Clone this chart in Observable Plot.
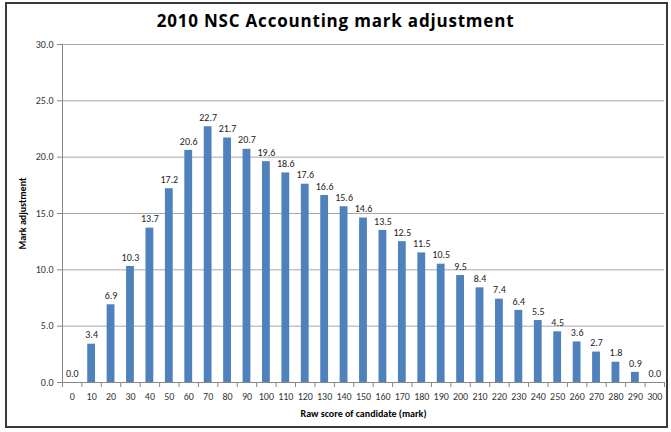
<!DOCTYPE html>
<html>
<head>
<meta charset="utf-8">
<script src="https://cdn.jsdelivr.net/npm/d3@7"></script>
<script src="https://cdn.jsdelivr.net/npm/@observablehq/plot@0.6"></script>
<style>
  body { margin: 0; background: #fff; }
  #wrap { position: relative; width: 671px; height: 432px; font-family: Carlito, Lato, "Open Sans", sans-serif; }
  #border { position: absolute; left: 5px; top: 2px; width: 663px; height: 426px; box-sizing: border-box; border: 2px solid #3a3a3a; pointer-events: none; }
  #title { position: absolute; left: 0; top: 9px; width: 100%; text-align: center; font-family: "Open Sans", Lato, sans-serif; font-weight: bold; font-size: 17px; letter-spacing: 0.8px; color: #000; }
  #chart { position: absolute; left: 0; top: 0; }
</style>
</head>
<body>
<div id="wrap">
  <div id="chart"></div>
  <div id="border"></div>
  <div id="title">2010 NSC Accounting mark adjustment</div>
</div>
<script>
const scores = [0,10,20,30,40,50,60,70,80,90,100,110,120,130,140,150,160,170,180,190,200,210,220,230,240,250,260,270,280,290,300];
const adjustments = [0.0,3.4,6.9,10.3,13.7,17.2,20.6,22.7,21.7,20.7,19.6,18.6,17.6,16.6,15.6,14.6,13.5,12.5,11.5,10.5,9.5,8.4,7.4,6.4,5.5,4.5,3.6,2.7,1.8,0.9,0.0];
const yTicks = [0,5,10,15,20,25,30];
const title = "2010 NSC Accounting mark adjustment";
const xTitle = "Raw score of candidate (mark)";
const yTitle = "Mark adjustment";

const data = scores.map((s, i) => ({score: s, value: adjustments[i]}));
const step = scores[1] - scores[0];
const half = step / 2;
const xDomain = [scores[0] - half, scores[scores.length - 1] + half];
const boundaries = scores.map(s => s - half).concat([scores[scores.length - 1] + half]);

const fontFam = "Carlito, Lato, 'Open Sans', sans-serif";

const chart = Plot.plot({
  width: 671,
  height: 432,
  marginLeft: 62,
  marginRight: 7,
  marginTop: 44,
  marginBottom: 50,
  style: {fontFamily: fontFam, fontSize: "10px", color: "#333", background: "transparent"},
  x: {type: "linear", domain: xDomain},
  y: {domain: [0, 30]},
  marks: [
    Plot.gridY(yTicks.filter(t => t > 0), {stroke: "#a8a8a8", strokeOpacity: 1, strokeWidth: 1}),
    Plot.rectY(data, {x1: d => d.score - half, x2: d => d.score + half, y: "value", fill: "#4f81bd", insetLeft: 5.8, insetRight: 5.8}),
    Plot.text(data, {x: "score", y: "value", text: d => d.value.toFixed(1), dy: -9, fill: "#222", fontSize: 10}),
    Plot.ruleY([0], {stroke: "#888"}),
    Plot.ruleX([xDomain[0]], {stroke: "#888"}),
    Plot.axisY({ticks: yTicks, tickFormat: d => d.toFixed(1), tickSize: 5, tickPadding: 4, stroke: "#888", fill: "#333", fontSize: 10,
      label: yTitle, labelAnchor: "center", labelArrow: "none", labelOffset: 44}),
    Plot.axisX({ticks: scores, tickFormat: d => String(d), tickSize: 0, tickPadding: 10, fill: "#333", fontSize: 10, label: null}),
    Plot.axisX({ticks: boundaries, tickFormat: () => "", tickSize: 5, stroke: "#888", label: null}),
    Plot.text([xTitle], {frameAnchor: "bottom", dy: 34, fontWeight: "bold", fontSize: 10, fill: "#000"})
  ]
});
document.getElementById("chart").appendChild(chart);

// bold y label
chart.querySelectorAll("g[aria-label='y-axis label'] text").forEach(t => { t.setAttribute("font-weight", "bold"); t.setAttribute("fill", "#000"); });
</script>
</body>
</html>
